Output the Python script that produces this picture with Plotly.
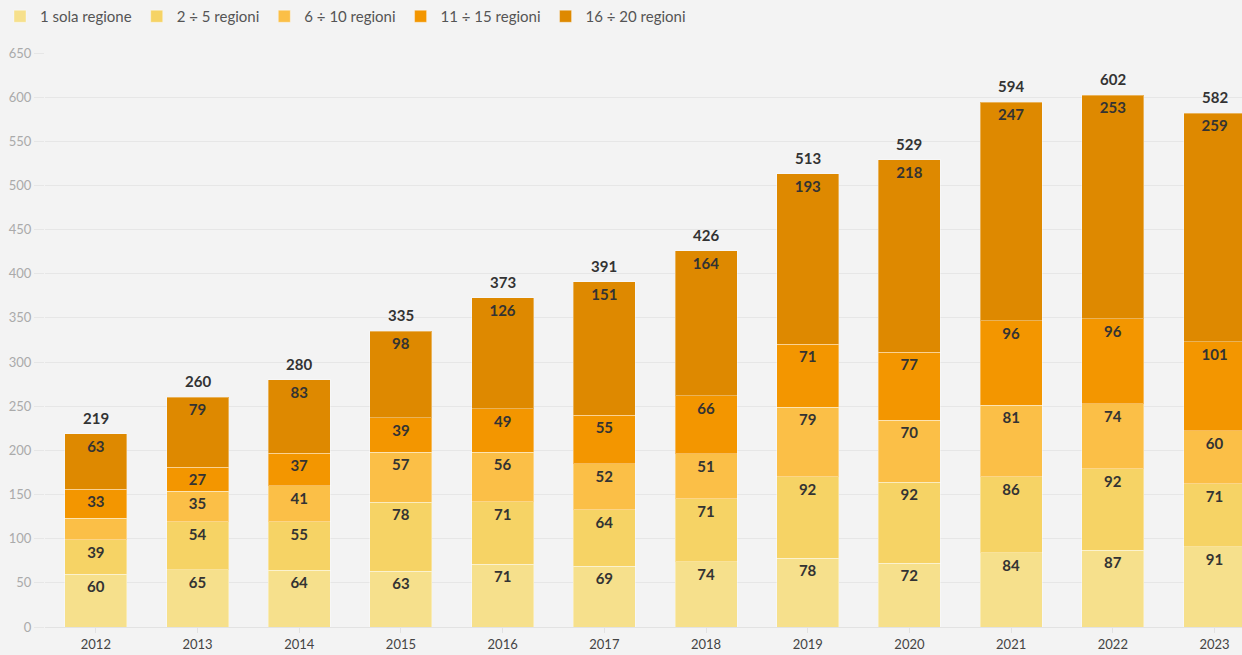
import plotly.graph_objects as go

years = ["2012", "2013", "2014", "2015", "2016", "2017", "2018", "2019", "2020", "2021", "2022", "2023"]
series_names = ["1 sola regione", "2 ÷ 5 regioni", "6 ÷ 10 regioni", "11 ÷ 15 regioni", "16 ÷ 20 regioni"]
sola = [60, 65, 64, 63, 71, 69, 74, 78, 72, 84, 87, 91]
r2_5 = [39, 54, 55, 78, 71, 64, 71, 92, 92, 86, 92, 71]
r6_10 = [24, 35, 41, 57, 56, 52, 51, 79, 70, 81, 74, 60]
r11_15 = [33, 27, 37, 39, 49, 55, 66, 71, 77, 96, 96, 101]
r16_20 = [63, 79, 83, 98, 126, 151, 164, 193, 218, 247, 253, 259]
colors = ["#F6E08C", "#F6D365", "#FBBF47", "#F39600", "#DE8900"]

series = [sola, r2_5, r6_10, r11_15, r16_20]
totals = [sum(v) for v in zip(*series)]

FONT = "Lato, Open Sans, sans-serif"

fig = go.Figure()
for name, vals, col in zip(series_names, series, colors):
    fig.add_trace(go.Bar(
        x=years, y=vals, name=name,
        marker=dict(color=col, line=dict(color="rgba(255,255,255,0.35)", width=1)),
        text=[str(v) if v >= 25 else "" for v in vals],
        textposition="inside", insidetextanchor="end",
        textfont=dict(family=FONT, size=15, color="#333333", weight="bold"),
        textangle=0,
        hoverinfo="skip",
    ))

for i, tot in enumerate(totals):
    fig.add_annotation(
        x=i, y=tot, xref="x", yref="y", text=str(tot), showarrow=False,
        yanchor="bottom", yshift=5,
        font=dict(family=FONT, size=15, color="#333333", weight="bold"),
    )

fig.update_layout(
    barmode="stack",
    bargap=0.39,
    width=1242, height=655,
    paper_bgcolor="#F3F3F3", plot_bgcolor="#F3F3F3",
    margin=dict(l=45, r=0, t=53, b=28),
    font=dict(family=FONT, color="#555555"),
    legend=dict(
        orientation="h", x=0.0, y=1.0, xref="container", yref="container",
        xanchor="left", yanchor="top", traceorder="normal",
        font=dict(family=FONT, size=15, color="#555555"),
        bgcolor="rgba(0,0,0,0)", itemwidth=30,
    ),
    xaxis=dict(
        type="category", range=[-0.5, 11.27],
        showgrid=False, ticks="outside", ticklen=5, tickcolor="#E2E2E2",
        tickfont=dict(family=FONT, size=13, color="#444444"),
        showline=True, linecolor="#E2E2E2", linewidth=1,
    ),
    yaxis=dict(
        range=[0, 650], dtick=50, tick0=0,
        showgrid=True, gridcolor="#E6E6E6", gridwidth=1,
        zeroline=False, ticks="outside", ticklen=10, tickcolor="#E6E6E6",
        tickfont=dict(family=FONT, size=13, color="#AAAAAA"),
    ),
)

fig.write_html(
    "out.html",
    config={"displayModeBar": False},
    post_script="document.body.style.margin='0';document.body.style.background='#F3F3F3';",
)
